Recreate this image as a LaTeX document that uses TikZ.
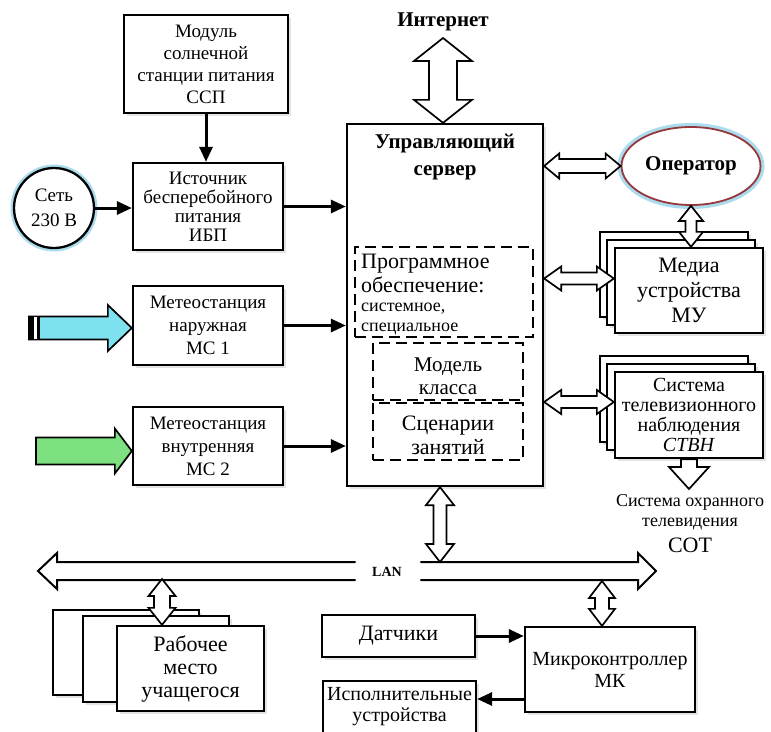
\documentclass[tikz,border=0pt]{standalone}
\usepackage{fontspec}
\setmainfont{Liberation Serif}
\usetikzlibrary{arrows.meta,calc,shapes.geometric,shadows}
\definecolor{cyanfill}{RGB}{125,225,240}
\definecolor{greenfill}{RGB}{125,225,130}
\definecolor{operred}{RGB}{150,55,60}
\definecolor{glowblue}{RGB}{170,220,238}
% vertical block double arrow: #1 top, #2 bottom, #3 shaft half, #4 head half, #5 head length
\newcommand\vdblarrow[5]{%
  \draw[blockarr] let \p1=#1, \p2=#2 in
    (\x1,\y1) -- (\x1+#4,\y1-#5) -- (\x1+#3,\y1-#5) -- (\x1+#3,\y2+#5) -- (\x1+#4,\y2+#5)
    -- (\x1,\y2) -- (\x1-#4,\y2+#5) -- (\x1-#3,\y2+#5) -- (\x1-#3,\y1-#5) -- (\x1-#4,\y1-#5) -- cycle;}
% horizontal block double arrow: #1 left, #2 right
\newcommand\hdblarrow[5]{%
  \draw[blockarr] let \p1=#1, \p2=#2 in
    (\x1,\y1) -- (\x1+#5,\y1+#4) -- (\x1+#5,\y1+#3) -- (\x2-#5,\y1+#3) -- (\x2-#5,\y1+#4)
    -- (\x2,\y1) -- (\x2-#5,\y1-#4) -- (\x2-#5,\y1-#3) -- (\x1+#5,\y1-#3) -- (\x1+#5,\y1-#4) -- cycle;}
% horizontal block single arrow: #1 tail, #2 tip, #6 style
\newcommand\hsglarrow[6]{%
  \draw[#6] let \p1=#1, \p2=#2 in
    (\x1,\y2+#3) -- (\x2-#5,\y2+#3) -- (\x2-#5,\y2+#4) -- (\x2,\y2) -- (\x2-#5,\y2-#4)
    -- (\x2-#5,\y2-#3) -- (\x1,\y2-#3) -- cycle;}
% vertical block single arrow downward: #1 tail (top), #2 tip (bottom)
\newcommand\vsglarrow[5]{%
  \draw[blockarr] let \p1=#1, \p2=#2 in
    (\x1+#3,\y1) -- (\x1+#3,\y2+#5) -- (\x1+#4,\y2+#5) -- (\x1,\y2) -- (\x1-#4,\y2+#5)
    -- (\x1-#3,\y2+#5) -- (\x1-#3,\y1) -- cycle;}
\begin{document}
\begin{tikzpicture}[x=1pt,y=-1pt,
  fs/.style 2 args={font=\fontsize{#1}{#2}\selectfont},
  box/.style={draw, line width=2.3pt, fill=white, inner sep=0pt, align=center,
    drop shadow={shadow xshift=2.5pt,shadow yshift=-2.5pt,fill=black!22}},
  dbox/.style={draw, line width=2.3pt, dash pattern=on 11pt off 6pt, inner sep=0pt},
  conn/.style={line width=3pt, -{Triangle[length=15pt,width=13pt]}},
  blockarr/.style={draw, line width=1.7pt, fill=white, line join=miter},
  cyanarr/.style={draw, line width=1.7pt, fill=cyanfill, line join=miter},
  greenarr/.style={draw, line width=1.7pt, fill=greenfill, line join=miter},
  lanline/.style={line width=2pt, line join=miter}
]
\useasboundingbox (0,0) rectangle (771,731);

% ---- left column
\node[box, minimum width=164pt, minimum height=98pt, fs={19}{22}] (ssp) at (206,64)
  {Модуль\\солнечной\\станции питания\\ССП};
\node[box, minimum width=150pt, minimum height=87pt, fs={19}{19}] (ibp) at (208,206.5)
  {Источник\\бесперебойного\\питания\\ИБП};
\node[circle, draw, fill=white, line width=2.3pt, minimum size=80pt, inner sep=0pt, align=center,
  fs={19}{25}, preaction={draw=glowblue, line width=7pt}] (set) at (54,208) {Сеть\\230 В};
\node[box, minimum width=150pt, minimum height=79pt, fs={19}{23}] (ms1) at (208,325.5)
  {Метеостанция\\наружная\\МС 1};
\node[box, minimum width=150pt, minimum height=78pt, fs={19}{23}] (ms2) at (208,446)
  {Метеостанция\\внутренняя\\МС 2};

% ---- server
\node[box, minimum width=196pt, minimum height=362pt] (srv) at (445,305) {};
\node[font=\bfseries\fontsize{21}{27}\selectfont, align=center] (srvt) at (445,157)
  {Управляющий\\сервер};
\node[dbox, minimum width=178pt, minimum height=90pt] (prog) at (444,292) {};
\node[anchor=west, align=left, inner sep=0pt, fs={22}{24}] (progt1) at (361,273)
  {Программное\\обеспечение:};
\node[anchor=west, align=left, inner sep=0pt, fs={18}{20}] (progt2) at (361,319)
  {системное,\\специальное};
\node[dbox, minimum width=150pt, minimum height=57pt] (model) at (448,371.5) {};
\node[fs={21}{23}, align=center] (modt) at (448,376) {Модель\\класса};
\node[dbox, minimum width=150pt, minimum height=57pt] (scen) at (448,431.5) {};
\node[fs={22}{24}, align=center] (scent) at (448,435) {Сценарии\\занятий};

\node[font=\bfseries\fontsize{21}{24}\selectfont] (inet) at (443,22) {Интернет};

% ---- right column
\node[ellipse, draw=operred, fill=white, line width=1.8pt, minimum width=130pt, minimum height=78pt,
  preaction={draw=glowblue, line width=8pt}, font=\bfseries\fontsize{21}{24}\selectfont]
  (oper) at (691,166) {Оператор};
\node[box, minimum width=148pt, minimum height=85pt] (mu3) at (674,274.5) {};
\node[box, minimum width=148pt, minimum height=85pt] (mu2) at (681,282.5) {};
\node[box, minimum width=148pt, minimum height=85pt, fs={22}{25}] (mu) at (689,290.5)
  {Медиа\\устройства\\МУ};
\node[box, minimum width=148pt, minimum height=86pt] (stvn3) at (674,399) {};
\node[box, minimum width=148pt, minimum height=86pt] (stvn2) at (681,407) {};
\node[box, minimum width=148pt, minimum height=86pt, fs={20}{20}] (stvn) at (689,415)
  {Система\\телевизионного\\наблюдения\\\textit{СТВН}};
\node[fs={18}{20}, align=center] (sot1) at (690,512) {Система охранного\\телевидения};
\node[fs={22}{24}] (sot2) at (690,545) {СОТ};

% ---- bottom
\node[font=\bfseries\fontsize{14}{16}\selectfont] (lan) at (387,572) {LAN};
\node[box, minimum width=146pt, minimum height=85pt] (rab3) at (126,652.5) {};
\node[box, minimum width=146pt, minimum height=86pt] (rab2) at (156,659) {};
\node[box, minimum width=147pt, minimum height=85pt, fs={22}{23}] (rab) at (190.5,668.5)
  {Рабочее\\место\\учащегося};
\node[box, minimum width=153pt, minimum height=42pt, fs={22}{24}] (dat) at (398.5,636) {Датчики};
\node[box, minimum width=153pt, minimum height=52pt, fs={20}{21}] (isp) at (399.5,707)
  {Исполнительные\\устройства};
\node[box, minimum width=170pt, minimum height=85pt, fs={20}{22}] (mk) at (610,669.5)
  {Микроконтроллер\\МК};

% ---- coordinates
\coordinate (inetA) at (443,38);
\coordinate (lanL) at (38,571);
\coordinate (lanR) at (656,571);
\coordinate (srvL) at (440,562);
\coordinate (rabT) at (162,579);
\coordinate (mkT) at (602,581);
\coordinate (sotT) at (689,489);
\coordinate (cyanT) at (29,328);
\coordinate (greenT) at (36,451);
\coordinate (muIn) at ($(mu.west)+(0,-12)$);
\coordinate (stvnIn) at ($(stvn.west)+(0,-13)$);
\coordinate (mkOut) at ($(mk.west)+(0,29.5)$);

% ---- LAN bus
\draw[lanline] ($(lan.west)+(-13,-10)$) -- ($(lanL)+(19,-9)$) -- ($(lanL)+(19,-18)$) -- (lanL)
  -- ($(lanL)+(19,18)$) -- ($(lanL)+(19,9)$) -- ($(lan.west)+(-13,8)$);
\draw[lanline] ($(lan.east)+(15,-10)$) -- ($(lanR)+(-18,-9)$) -- ($(lanR)+(-18,-18)$) -- (lanR)
  -- ($(lanR)+(-18,18)$) -- ($(lanR)+(-18,9)$) -- ($(lan.east)+(15,8)$);

% ---- thin connectors
\draw[conn] (ssp.south) -- (ssp.south |- ibp.north);
\draw[conn] (set.east) -- (set.east -| ibp.west);
\draw[conn] (ibp.east) -- (ibp.east -| srv.west);
\draw[conn] (ms1.east) -- (ms1.east -| srv.west);
\draw[conn] (ms2.east) -- (ms2.east -| srv.west);
\draw[conn] (dat.east) -- (dat.east -| mk.west);
\draw[conn] (mkOut) -- (mkOut -| isp.east);

% ---- block arrows
\vdblarrow{(inetA)}{(srv.north)}{14pt}{29pt}{23pt}
\hdblarrow{(oper.west -| srv.east)}{(oper.west)}{7pt}{12.5pt}{15pt}
\vdblarrow{(oper.south)}{(oper.south |- mu.north)}{5.5pt}{12pt}{15pt}
\hdblarrow{(muIn -| srv.east)}{(muIn)}{6pt}{12pt}{17pt}
\hdblarrow{(stvnIn -| srv.east)}{(stvnIn)}{6pt}{12pt}{17pt}
\vdblarrow{(srvL |- srv.south)}{(srvL)}{6.5pt}{14pt}{18pt}
\vdblarrow{(rabT)}{(rabT |- rab.north)}{8pt}{13.5pt}{17pt}
\vdblarrow{(mkT)}{(mkT |- mk.north)}{7pt}{13pt}{17pt}
\vsglarrow{(stvn.south)}{(sotT)}{8pt}{20pt}{22pt}
\hsglarrow{(cyanT)}{(cyanT -| ms1.west)}{11.5pt}{23pt}{24pt}{cyanarr}
\hsglarrow{(greenT)}{(greenT -| ms2.west)}{13.5pt}{22.5pt}{17pt}{greenarr}
% tail stripes of the cyan arrow
\fill[black] ($(cyanT)+(0,-12.3)$) rectangle ($(cyanT)+(5,12.3)$);
\fill[white] ($(cyanT)+(5,-10.7)$) rectangle ($(cyanT)+(8,10.7)$);
\fill[black] ($(cyanT)+(8,-12.3)$) rectangle ($(cyanT)+(10.5,12.3)$);
\end{tikzpicture}
\end{document}
